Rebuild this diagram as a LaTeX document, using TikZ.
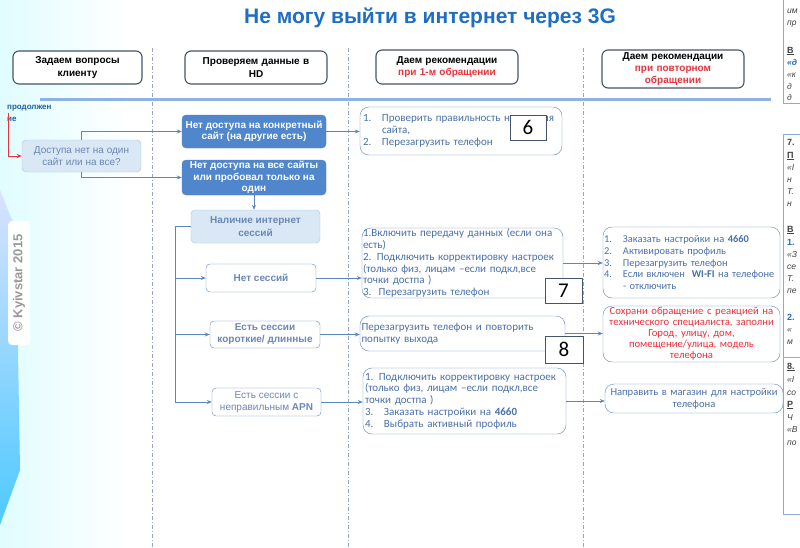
\documentclass[tikz,border=0pt]{standalone}
\usepackage{fontspec}
\setmainfont{Liberation Sans}
\newfontfamily\calf{Carlito}
\usetikzlibrary{arrows.meta}
\definecolor{bord}{HTML}{5B86C0}
\definecolor{fillb}{HTML}{4F86CC}
\definecolor{lfill}{HTML}{D9E8F4}
\definecolor{lbord}{HTML}{A9C5E0}
\definecolor{txt}{HTML}{4A70AA}
\definecolor{txtb}{HTML}{6A87B5}
\definecolor{ttl}{HTML}{1F6EC0}
\definecolor{rd}{HTML}{E8323C}
\definecolor{hbord}{HTML}{44546A}
\definecolor{sep}{HTML}{8FA6C8}
\newcommand\numi[1]{\makebox[19pt][l]{#1}}
\tikzset{
  hdr/.style={draw=hbord, line width=1.1pt, rounded corners=6pt, fill=white, inner sep=1pt,
    align=center, font=\bfseries\fontsize{10}{12.5}\selectfont},
  bluebox/.style={draw=bord, fill=fillb, rounded corners=4pt, text=white, align=center, inner sep=1pt,
    font=\bfseries\fontsize{10}{11.5}\selectfont},
  lightbox/.style={draw=lbord, fill=lfill, rounded corners=4pt, align=center, inner sep=1pt,
    font=\fontsize{10}{12.5}\selectfont},
  sessbox/.style={draw=bord, fill=white, rounded corners=4pt, text=txtb, align=center, inner sep=1pt,
    font=\fontsize{10}{12}\selectfont},
  recbox/.style={draw=bord, fill=white, rounded corners=9pt, text=txt, inner sep=2pt,
    font=\calf\fontsize{11}{11.8}\selectfont},
  numbox/.style={draw=hbord, fill=white, inner sep=0pt, font=\calf\fontsize{21}{21}\selectfont},
  arr/.style={draw=bord, line width=0.9pt, -{Stealth[length=5pt,width=4pt]}},
  ln/.style={draw=bord, line width=0.9pt},
  vsep/.style={draw=sep, line width=0.6pt, dash pattern=on 4pt off 2pt on 1pt off 2pt},
  frag/.style={anchor=base west, inner sep=0pt, font=\itshape\fontsize{8.5}{10}\selectfont, text=black!75},
}
\begin{document}
\begin{tikzpicture}[x=1pt,y=-1pt]
\useasboundingbox (0,0) rectangle (800,547);
\clip (0,0) rectangle (800,547);
% background
\fill[white] (0,0) rectangle (800,547);
\shade[left color=blue!8!cyan!12, right color=white] (0,0) rectangle (130,547);
\shade[top color=cyan!25!blue!15, bottom color=cyan!70!blue!70] (0,190) -- (16,230) -- (20,470) -- (0,525) -- cycle;
\node[draw=none, fill=white, rounded corners=4pt, minimum width=22pt, minimum height=124pt] (badge) at (19,283) {};
\node[rotate=90, text=black!40, font=\bfseries\fontsize{13}{13}\selectfont] (copy) at (19,283) {© Kyivstar 2015};
% title
\node[text=ttl, font=\bfseries\fontsize{21}{24}\selectfont] (title) at (430,18) {Не могу выйти в интернет через 3G};
% separators
\draw[vsep] (152,48) -- (152,547);
\draw[vsep] (348,48) -- (348,547);
\draw[vsep] (583,48) -- (583,547);
\draw[draw=cyan!55!blue!45, line width=3pt] (40,99) -- (771,99);
% headers
\node[hdr, minimum width=129pt, minimum height=33pt, text width=125pt] (h1) at (77.5,67.5) {Задаем вопросы\\клиенту};
\node[hdr, minimum width=142pt, minimum height=33pt, text width=138pt] (h2) at (256,67.5) {Проверяем данные в\\HD};
\node[hdr, minimum width=142pt, minimum height=34pt, text width=138pt] (h3) at (447,67) {Даем рекомендации\\\textcolor{rd}{при 1-м обращении}};
\node[hdr, minimum width=142pt, minimum height=38pt, text width=138pt, font=\bfseries\fontsize{10}{11.8}\selectfont] (h4) at (673,69) {Даем рекомендации\\\textcolor{rd}{при повторном}\\\textcolor{rd}{обращении}};
% continuation
\node[anchor=base west, inner sep=0pt, text=ttl!85!black, font=\bfseries\fontsize{8}{9}\selectfont] (cont1) at (7,109) {продолжен};
\node[anchor=base west, inner sep=0pt, text=ttl!85!black, font=\bfseries\fontsize{8}{9}\selectfont] (cont2) at (7,121) {ие};
% question
\node[lightbox, text=txtb, minimum width=119pt, minimum height=32pt] (q) at (81.5,156) {Доступа нет на один\\сайт или на все?};
\coordinate (rs) at (8,113);
\draw[draw=rd, line width=0.9pt, -{Stealth[length=5pt,width=4pt]}] (rs) |- (q.west);
% level 2
\node[bluebox, minimum width=144pt, minimum height=33pt] (a) at (254,131.5) {Нет доступа на конкретный\\сайт (на другие есть)};
\node[bluebox, minimum width=144pt, minimum height=35pt] (b) at (254,177.5) {Нет доступа на все сайты\\или пробовал только на\\один};
\draw[arr] (q.north) |- (a.west);
\draw[arr] (q.south) |- (b.west);
\node[lightbox, text=txtb, minimum width=129pt, minimum height=33pt, font=\bfseries\fontsize{10}{12.5}\selectfont] (nal) at (255.5,226.5) {Наличие интернет\\сессий};
\draw[arr] (b.south) -- (b.south|-nal.north);
\node[sessbox, minimum width=110pt, minimum height=28pt, font=\bfseries\fontsize{10}{12}\selectfont] (ns) at (261,278) {Нет сессий};
\node[sessbox, minimum width=110pt, minimum height=27pt, font=\bfseries\fontsize{10}{12}\selectfont] (ks) at (265,334.5) {Есть сессии\\короткие/ длинные};
\node[sessbox, minimum width=109pt, minimum height=28pt, font=\fontsize{10}{12}\selectfont] (apn) at (266.5,402) {Есть сессии с\\неправильным \textbf{APN}};
\coordinate (tr) at (175,226.5);
\draw[ln] (nal.west) -- (tr) -- (tr|-apn.west);
\draw[arr] (tr|-ns.west) -- (ns.west);
\draw[arr] (tr|-ks.west) -- (ks.west);
\draw[arr] (tr|-apn.west) -- (apn.west);
% first recommendation
\node[recbox, minimum width=202pt, minimum height=48pt, text width=196pt, align=left] (r6) at (461,131) {\numi{1.}Проверить правильность написания\\\numi{}сайта,\\\numi{2.}Перезагрузить телефон};
\node[recbox, minimum width=201pt, minimum height=70pt, text width=199pt, align=left, inner sep=0.5pt] (r7) at (462.5,263) {1.Включить передачу данных (если она\\есть)\\2. Подключить корректировку настроек\\(только физ, лицам –если подкл,все\\точки достпа )\\3.\ \ Перезагрузить телефон};
\node[recbox, minimum width=205pt, minimum height=35pt, text width=202pt, align=left, inner sep=1pt] (r8) at (462.5,333.5) {Перезагрузить телефон и повторить\\попытку выхода};
\node[recbox, minimum width=203pt, minimum height=66pt, text width=199pt, align=left, inner sep=1pt] (r9) at (464.5,401) {1. Подключить корректировку настроек\\(только физ, лицам –если подкл,все\\точки достпа )\\\numi{3.}Заказать настройки на \textbf{4660}\\\numi{4.}Выбрать активный профиль};
\draw[arr] (a.east) -- (a.east-|r6.west);
\draw[arr] (ns.east) -- (ns.east-|r7.west);
\draw[arr] (ks.east) -- (ks.east-|r8.west);
\draw[arr] (apn.east) -- (apn.east-|r9.west);
% number boxes
\node[numbox, minimum width=36pt, minimum height=25pt] (n6) at (528,127.5) {6};
\node[numbox, minimum width=37pt, minimum height=25pt] (n7) at (563.5,290.5) {7};
\node[numbox, minimum width=38pt, minimum height=27pt] (n8) at (564,349.5) {8};
% repeated recommendation
\node[recbox, minimum width=177pt, minimum height=71pt, text width=175pt, align=left, inner sep=0.5pt, font=\calf\fontsize{10.4}{11.8}\selectfont] (s7) at (691.5,262.5) {\numi{1.}Заказать настройки на \textbf{4660}\\\numi{2.}Активировать профиль\\\numi{3.}Перезагрузить телефон\\\numi{4.}\mbox{Если включен \ \textbf{WI-FI} на телефоне}\\\numi{}- отключить};
\node[recbox, text=rd, minimum width=177pt, minimum height=56pt, text width=177pt, align=center, inner sep=0pt, font=\calf\fontsize{10.7}{11}\selectfont] (s8) at (691.5,334) {Сохрани обращение с реакцией на\\технического специалиста, заполни\\Город, улицу, дом,\\помещение/улица, модель\\телефона};
\node[recbox, minimum width=178pt, minimum height=29pt, text width=176pt, align=center, inner sep=0.5pt, font=\calf\fontsize{10.6}{11.8}\selectfont] (s9) at (694,398.5) {Направить в магазин для настройки\\телефона};
\draw[arr] (r7.east) -- (r7.east-|s7.west);
\draw[arr] (r8.east) -- (r8.east-|s8.west);
\draw[arr] (r9.east) -- (r9.east-|s9.west);
% right cut panel
\draw[draw=bord!70, line width=0.8pt, fill=white] (783,-2) rectangle (812,103);
\draw[draw=bord!70, line width=0.8pt, fill=white] (783,134) rectangle (812,358);
\draw[draw=bord!70, line width=0.8pt, fill=white] (783,357) rectangle (812,514);
\node[frag] (f1) at (787,13) {им};
\node[frag] (f2) at (787,25) {пр};
\node[frag, font=\bfseries\fontsize{9}{10}\selectfont] (f3) at (787,53) {\underline{В}};
\node[frag, text=ttl, font=\bfseries\itshape\fontsize{8.5}{10}\selectfont] (f4) at (787,65) {«д};
\node[frag] (f5) at (787,77) {«к};
\node[frag] (f6) at (787,89) {д};
\node[frag] (f7) at (787,100) {д};
\node[frag, font=\bfseries\fontsize{9}{10}\selectfont] (g1) at (787,145) {7.};
\node[frag, font=\bfseries\fontsize{9}{10}\selectfont] (g2) at (787,158) {\underline{П}};
\node[frag] (g3) at (787,170) {«I};
\node[frag] (g4) at (787,182) {н};
\node[frag] (g5) at (787,194) {Т.};
\node[frag] (g6) at (787,206) {н};
\node[frag, font=\bfseries\fontsize{9}{10}\selectfont] (g7) at (787,232) {\underline{В}};
\node[frag, text=ttl, font=\bfseries\fontsize{9}{10}\selectfont] (g8) at (787,245) {1.};
\node[frag] (g9) at (787,257) {«З};
\node[frag] (g10) at (787,269) {се};
\node[frag] (g11) at (787,281) {Т.};
\node[frag] (g12) at (787,293) {пе};
\node[frag, text=ttl, font=\bfseries\fontsize{9}{10}\selectfont] (g13) at (787,320) {2.};
\node[frag] (g14) at (787,332) {«};
\node[frag] (g15) at (787,344) {м};
\node[frag, font=\bfseries\fontsize{9}{10}\selectfont] (k1) at (787,369) {\underline{8.}};
\node[frag] (k2) at (787,382) {«I};
\node[frag] (k3) at (787,395) {со};
\node[frag, font=\bfseries\fontsize{9}{10}\selectfont] (k4) at (787,407) {\underline{Р}};
\node[frag] (k5) at (787,420) {Ч};
\node[frag] (k6) at (787,432) {«В};
\node[frag] (k7) at (787,445) {по};
\end{tikzpicture}
\end{document}
